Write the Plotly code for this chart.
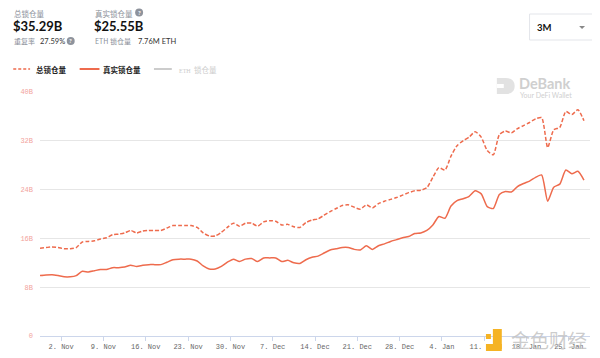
import plotly.graph_objects as go
import pandas as pd

# ---------------- data ----------------
dates = pd.date_range("2020-10-29 12:00", periods=91, freq="D")

total_tvl = [14.4, 14.5, 14.6, 14.5, 14.3, 14.3, 14.5, 15.4, 15.5, 15.6,
             15.9, 16.1, 16.6, 16.7, 16.9, 17.3, 16.9, 17.2, 17.3, 17.3,
             17.3, 17.7, 18.1, 18.1, 18.1, 18.1, 17.8, 16.9, 16.4, 16.4,
             17.0, 17.8, 18.5, 18.0, 18.5, 18.5, 18.0, 18.7, 18.9, 18.8,
             18.2, 18.3, 17.9, 17.8, 18.6, 19.0, 19.2, 19.8, 20.4, 20.9,
             21.4, 21.5, 21.1, 20.8, 21.5, 21.0, 21.7, 22.1, 22.4, 22.7,
             23.1, 23.5, 23.8, 23.9, 24.3, 26.0, 27.6, 27.2, 29.5, 31.2,
             32.0, 32.6, 33.5, 32.6, 30.4, 29.7, 33.0, 33.6, 33.3, 34.0,
             34.5, 35.0, 35.6, 35.8, 30.9, 33.8, 34.2, 36.8, 36.3, 37.1,
             35.29]

real_tvl = [9.9, 10.0, 10.05, 9.9, 9.7, 9.7, 9.9, 10.6, 10.5, 10.7,
            10.9, 10.9, 11.2, 11.2, 11.3, 11.6, 11.4, 11.6, 11.7, 11.7,
            11.7, 12.1, 12.5, 12.6, 12.6, 12.6, 12.3, 11.5, 11.0, 11.0,
            11.4, 12.1, 12.6, 12.2, 12.6, 12.7, 12.2, 12.8, 12.8, 12.8,
            12.2, 12.4, 12.0, 11.9, 12.5, 12.9, 13.1, 13.6, 14.1, 14.3,
            14.5, 14.5, 14.2, 14.1, 14.8, 14.2, 14.8, 15.1, 15.5, 15.8,
            16.1, 16.3, 16.8, 16.9, 17.3, 18.2, 19.6, 19.3, 21.3, 22.2,
            22.5, 22.9, 23.8, 23.3, 21.2, 20.9, 23.2, 23.7, 23.6, 24.5,
            25.0, 25.4, 26.0, 26.4, 22.1, 24.4, 24.9, 27.2, 26.6, 27.0,
            25.55]

x_tick_dates = ["2020-11-02", "2020-11-09", "2020-11-16", "2020-11-23", "2020-11-30",
                "2020-12-07", "2020-12-14", "2020-12-21", "2020-12-28", "2021-01-04",
                "2021-01-11", "2021-01-18", "2021-01-25"]
x_tick_labels = ["2. Nov", "9. Nov", "16. Nov", "23. Nov", "30. Nov", "7. Dec",
                 "14. Dec", "21. Dec", "28. Dec", "4. Jan", "11. Jan", "18. Jan", "25. Jan"]
y_tick_vals = [0, 8, 16, 24, 32, 40]
y_tick_labels = ["0", "8B", "16B", "24B", "32B", "40B"]

series_names = ["总锁仓量", "真实锁仓量", "ETH 锁仓量"]
header_total = "$35.29B"
header_real = "$25.55B"
dup_rate = "27.59%"
eth_locked = "7.76M ETH"

# ---------------- layout constants ----------------
# the page body has an 8px margin, so the figure itself starts at (8, 8)
OFF = 8
W, H = 600, 358
PLOT_X0, PLOT_X1, PLOT_Y0, PLOT_Y1 = 35, 590, 92, 336   # target page pixels
L = PLOT_X0 - OFF
T = PLOT_Y0 - OFF
R = W - (PLOT_X1 - OFF)
B = H - (PLOT_Y1 - OFF)
PW, PH = PLOT_X1 - PLOT_X0, PLOT_Y1 - PLOT_Y0
LINE = "#EE6B4D"
CJK = "Noto Sans CJK SC"


def px(x):
    return (x - PLOT_X0) / PW


def py(y):
    return (PLOT_Y1 - y) / PH


fig = go.Figure()
fig.add_trace(go.Scatter(x=dates, y=total_tvl, mode="lines", name=series_names[0],
                         line=dict(color=LINE, width=1.5, dash="4px,2px", shape="spline", smoothing=0.6),
                         hoverinfo="skip"))
fig.add_trace(go.Scatter(x=dates, y=real_tvl, mode="lines", name=series_names[1],
                         line=dict(color=LINE, width=1.5, shape="spline", smoothing=0.6),
                         hoverinfo="skip"))

fig.update_layout(
    width=W, height=H,
    margin=dict(l=L, r=R, t=T, b=B, pad=0),
    paper_bgcolor="white", plot_bgcolor="white",
    showlegend=False,
    xaxis=dict(range=[dates[0], pd.Timestamp("2021-01-28 12:00")],
               showgrid=False, zeroline=False,
               showline=True, linecolor="#ccd6eb", linewidth=1,
               ticks="outside", ticklen=4, tickcolor="#ccd6eb",
               tickvals=x_tick_dates, ticktext=x_tick_labels,
               tickfont=dict(family="Liberation Mono", size=7, color="#666666")),
    yaxis=dict(range=[0, 40], tickvals=y_tick_vals, ticktext=y_tick_labels,
               showgrid=True, gridcolor="#e6e6e6", gridwidth=1, zeroline=False,
               ticks="", ticklabelstandoff=6,
               tickfont=dict(family="Liberation Mono", size=7, color="#f2a39c")),
)

ann = []
shapes = []


def text(x, y, s, size, color, family=CJK, anchor="left", bold=False):
    ann.append(dict(x=px(x), y=py(y), xref="paper", yref="paper", text=s, showarrow=False,
                    xanchor=anchor, yanchor="middle", borderpad=0,
                    font=dict(family=family, size=size, color=color,
                              weight="bold" if bold else "normal")))


def qmark(x, y):
    shapes.append(dict(type="circle", xref="paper", yref="paper",
                       x0=px(x - 4), x1=px(x + 4), y0=py(y + 4), y1=py(y - 4),
                       fillcolor="#8e939c", line=dict(width=0)))
    text(x, y, "?", 6, "white", family="Lato", anchor="center", bold=True)


# header column 1
text(8, 13, series_names[0], 7.5, "#8a8f99")
text(7, 26, header_total, 13, "#111111", family="Lato", bold=True)
text(8, 41.5, "重复率", 7, "#8a8f99")
text(34, 41.5, dup_rate, 7.5, "#333333", family="Lato")
qmark(66, 41)
# header column 2
text(89, 13, series_names[1], 7.5, "#8a8f99")
qmark(135, 12.5)
text(88, 26, header_real, 13, "#111111", family="Lato", bold=True)
text(89, 41.5, "ETH 锁仓量", 7, "#8a8f99")
text(133, 41.5, eth_locked, 7.5, "#333333", family="Lato")

# legend
shapes.append(dict(type="line", xref="paper", yref="paper", x0=px(8), x1=px(25), y0=py(69), y1=py(69),
                   line=dict(color=LINE, width=1.5, dash="3px,2px")))
text(30, 69, series_names[0], 7.5, "#222222", bold=True)
shapes.append(dict(type="line", xref="paper", yref="paper", x0=px(75), x1=px(95), y0=py(69), y1=py(69),
                   line=dict(color=LINE, width=2)))
text(98, 69, series_names[1], 7.5, "#222222", bold=True)
shapes.append(dict(type="line", xref="paper", yref="paper", x0=px(150), x1=px(168), y0=py(69), y1=py(69),
                   line=dict(color="#cccccc", width=2)))
text(174, 69, "<span style='font-family:Liberation Serif;font-size:6px'>ETH</span>  锁仓量", 7.5, "#cccccc")

# range dropdown
shapes.append(dict(type="rect", xref="paper", yref="paper", x0=px(529), x1=px(595), y0=py(40), y1=py(14),
                   line=dict(color="#e3e5ea", width=1), fillcolor="white"))
text(536, 27, "3M", 9.5, "#111111", family="Lato", bold=True)
shapes.append(dict(type="path", xref="paper", yref="paper",
                   path="M %f,%f L %f,%f L %f,%f Z" % (px(579), py(26), px(585), py(26), px(582), py(29)),
                   fillcolor="#888888", line=dict(width=0)))

# DeBank watermark (logo + text)
shapes.append(dict(type="path", xref="paper", yref="paper",
                   path=("M %f,%f L %f,%f Q %f,%f %f,%f Q %f,%f %f,%f L %f,%f Z" %
                         (px(496), py(78), px(505), py(78), px(514), py(78), px(514), py(86),
                          px(514), py(94), px(505), py(94), px(496), py(94))),
                   fillcolor="#e2e2e2", line=dict(width=0)))
shapes.append(dict(type="rect", xref="paper", yref="paper", x0=px(496), x1=px(503), y0=py(88), y1=py(84),
                   fillcolor="white", line=dict(width=0)))
text(517, 83.5, "DeBank", 14.5, "#cfcfcf", family="Lato", bold=True)
text(518, 94.5, "Your DeFi Wallet", 7, "#cfcfcf", family="Lato")

# 金色财经 watermark
shapes.append(dict(type="rect", xref="paper", yref="paper", x0=px(492), x1=px(501), y0=py(349), y1=py(329),
                   line=dict(width=0), fillcolor="#f5b324"))
shapes.append(dict(type="rect", xref="paper", yref="paper", x0=px(485), x1=px(501), y0=py(351), y1=py(344),
                   line=dict(width=0), fillcolor="#f5b324"))
shapes.append(dict(type="rect", xref="paper", yref="paper", x0=px(485), x1=px(490), y0=py(339), y1=py(334),
                   line=dict(width=0), fillcolor="#f5b324"))
text(509, 339, "金色财经", 19, "rgba(195,195,195,0.85)")

fig.update_layout(annotations=ann, shapes=shapes)
fig.write_html("out.html")
